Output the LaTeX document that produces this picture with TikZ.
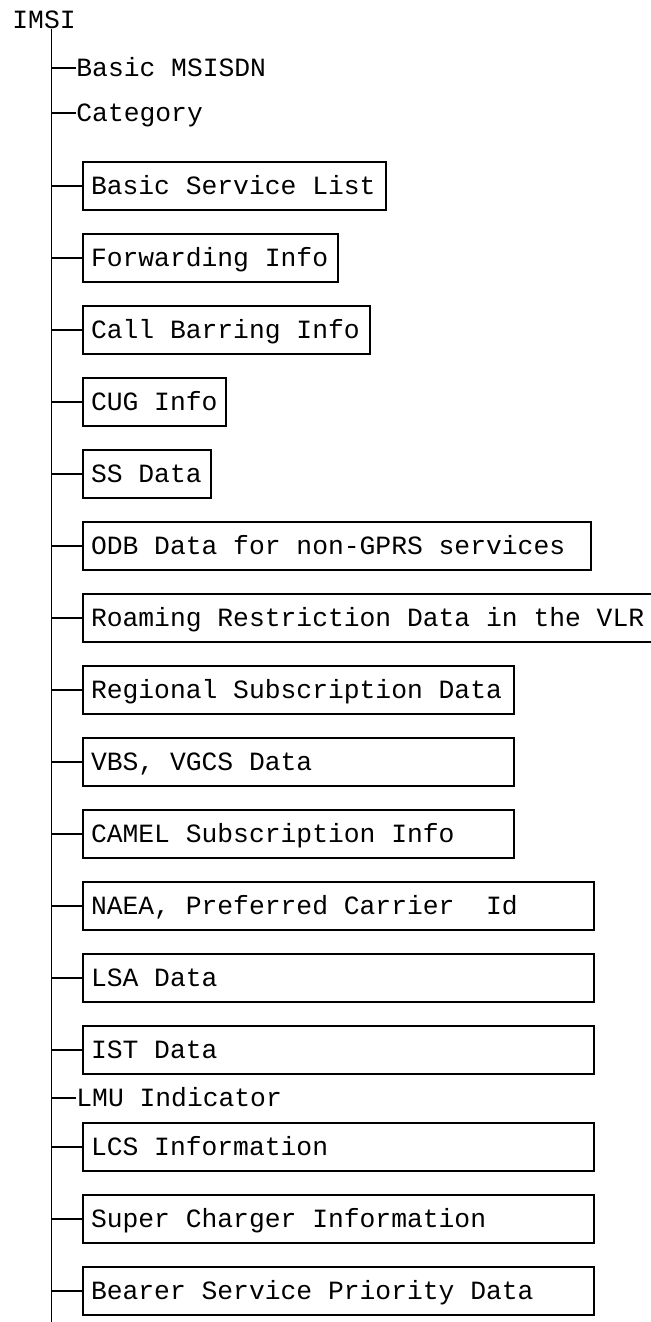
\documentclass[tikz,border=0pt]{standalone}
\usepackage{fontspec}
\setmonofont{Liberation Mono}
\usetikzlibrary{calc}

\begin{document}
\begin{tikzpicture}[x=0.5pt,y=-0.5pt]
\tikzset{
	field node/.style = {anchor=west, inner sep=0, font=\ttfamily\fontsize{13.17}{16}\selectfont, text height=8.7pt, text depth=0pt},
	box node/.style = {field node, draw, line width=1pt, inner xsep=4pt, minimum height=24pt, align=left,
		execute at begin node={\spaceskip=0pt\xspaceskip=0pt\relax}},
	branch/.style = {line width=1pt},
}
\useasboundingbox (0,0) rectangle (650,1322);

\node(imsi)[field node] at (12,20) {IMSI};
\coordinate (end) at (51,1322);
\draw[line width=0.5pt] (imsi.south -| end) -- (end);

\node(msisdn)[field node] at (76,68) {Basic MSISDN};
\node(cat)[field node] at (76,113) {Category};
\node(lmu)[field node] at (76,1098) {LMU Indicator};
\foreach \n in {msisdn,cat,lmu} \draw[branch] (end |- \n.west) -- (\n.west);

\foreach \t/\w/\y [count=\i, evaluate=\w as \tw using \w/2-9] in {
	{Basic Service List}/305/186,
	{Forwarding Info}/257/258,
	{Call Barring Info}/289/330,
	{CUG Info}/145/402,
	{SS Data}/130/474,
	{ODB Data for non-GPRS services}/510/546,
	{Roaming Restriction Data in the VLR}/583/618,
	{Regional Subscription Data}/433/690,
	{VBS, VGCS Data}/433/762,
	{CAMEL Subscription Info}/433/834,
	{NAEA, Preferred Carrier~ Id}/513/906,
	{LSA Data}/513/978,
	{IST Data}/513/1050,
	{LCS Information}/513/1147,
	{Super Charger Information}/513/1219,
	{Bearer Service Priority Data}/513/1291} {
	\node(box\i)[box node, text width=\tw pt] at (82,\y) {\t};
	\draw[branch] (end |- box\i.west) -- (box\i.west);
}

\end{tikzpicture}
\end{document}
